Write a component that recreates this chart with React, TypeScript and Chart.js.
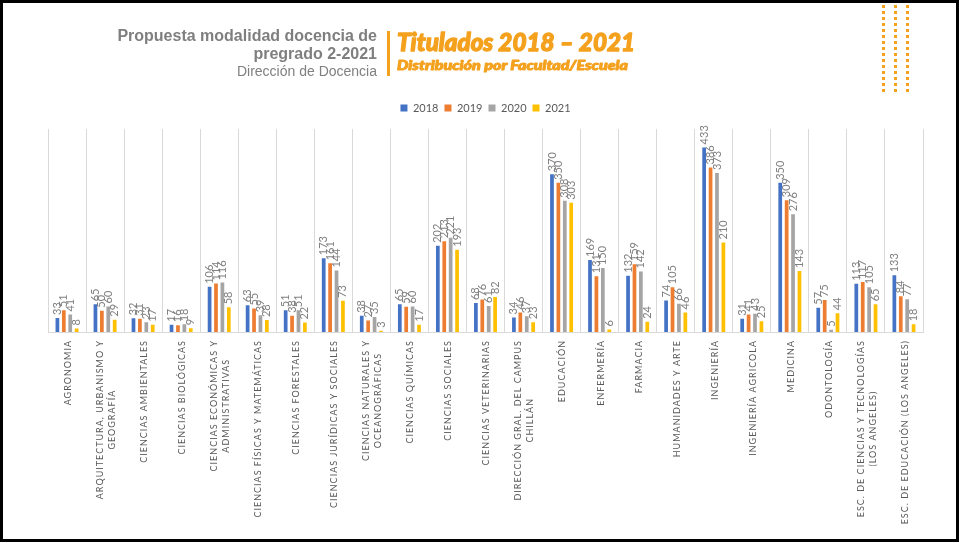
import React, { useEffect, useRef } from "react";
import { Chart, registerables } from "chart.js";

Chart.register(...registerables);

const categories: (string | string[])[] = [
  "AGRONOMIA",
  ["ARQUITECTURA, URBANISMO Y", "GEOGRAFÍA"],
  "CIENCIAS AMBIENTALES",
  "CIENCIAS BIOLÓGICAS",
  ["CIENCIAS ECONÓMICAS Y", "ADMINISTRATIVAS"],
  "CIENCIAS FÍSICAS Y MATEMÁTICAS",
  "CIENCIAS FORESTALES",
  "CIENCIAS JURÍDICAS Y SOCIALES",
  ["CIENCIAS NATURALES Y", "OCEANOGRÁFICAS"],
  "CIENCIAS QUÍMICAS",
  "CIENCIAS SOCIALES",
  "CIENCIAS VETERINARIAS",
  ["DIRECCIÓN GRAL. DEL CAMPUS", "CHILLÁN"],
  "EDUCACIÓN",
  "ENFERMERÍA",
  "FARMACIA",
  "HUMANIDADES Y ARTE",
  "INGENIERÍA",
  "INGENIERÍA AGRICOLA",
  "MEDICINA",
  "ODONTOLOGÍA",
  ["ESC. DE CIENCIAS Y TECNOLOGÍAS", "(LOS ANGELES)"],
  "ESC. DE EDUCACIÓN (LOS ANGELES)",
];

const seriesNames = ["2018", "2019", "2020", "2021"];
const values2018 = [33, 65, 32, 17, 106, 63, 51, 173, 38, 65, 202, 68, 34, 370, 169, 132, 74, 433, 31, 350, 57, 113, 133];
const values2019 = [51, 50, 31, 16, 114, 55, 38, 161, 27, 59, 213, 76, 46, 350, 131, 159, 105, 386, 41, 309, 75, 117, 84];
const values2020 = [41, 60, 23, 18, 116, 39, 51, 144, 35, 60, 221, 61, 37, 308, 150, 142, 66, 373, 43, 276, 5, 105, 77];
const values2021 = [8, 29, 17, 9, 58, 28, 22, 73, 3, 17, 193, 82, 23, 303, 6, 24, 46, 210, 25, 143, 44, 65, 18];
const seriesColors = ["#4472C4", "#ED7D31", "#A5A5A5", "#FFC000"];

const ORANGE = "#F4A11E";

const gridTopPlugin = {
  id: "gridTop",
  beforeDatasetsDraw(chart: any) {
    const { ctx, chartArea } = chart;
    ctx.save();
    ctx.fillStyle = "#ffffff";
    ctx.fillRect(chartArea.left - 2, chartArea.top - 1, chartArea.right - chartArea.left + 4, 129 - chartArea.top + 1);
    ctx.restore();
  },
};

const valueLabelPlugin = {
  id: "valueLabels",
  afterDatasetsDraw(chart: any) {
    const ctx = chart.ctx;
    ctx.save();
    ctx.font = "11px Lato";
    ctx.fillStyle = "#808080";
    ctx.textAlign = "left";
    ctx.textBaseline = "middle";
    chart.data.datasets.forEach((ds: any, di: number) => {
      const meta = chart.getDatasetMeta(di);
      meta.data.forEach((el: any, i: number) => {
        ctx.save();
        ctx.translate(el.x, el.y - 3);
        ctx.rotate(-Math.PI / 2);
        ctx.fillText(String(ds.data[i]), 0, 0);
        ctx.restore();
      });
    });
    ctx.restore();
  },
};

const categoryLabelPlugin = {
  id: "categoryLabels",
  afterDraw(chart: any) {
    const scale = chart.scales.x;
    const ctx = chart.ctx;
    ctx.save();
    ctx.font = "9px Lato";
    (ctx as any).letterSpacing = "1px";
    ctx.fillStyle = "#595959";
    ctx.textAlign = "center";
    ctx.textBaseline = "middle";
    const top = scale.bottom + 8;
    const lh = 12;
    (chart.data.labels as any[]).forEach((lab, i) => {
      const lines: string[] = Array.isArray(lab) ? lab : [lab];
      const w = Math.max(...lines.map((l) => ctx.measureText(l).width));
      const cx = scale.getPixelForTick(i) + 1;
      ctx.save();
      ctx.translate(cx, top + w / 2);
      ctx.rotate(-Math.PI / 2);
      lines.forEach((l, j) => {
        ctx.fillText(l, 0, (j - (lines.length - 1) / 2) * lh);
      });
      ctx.restore();
    });
    ctx.restore();
  },
};

export default function App() {
  const canvasRef = useRef<HTMLCanvasElement | null>(null);

  useEffect(() => {
    if (!canvasRef.current) return;
    const allSeries = [values2018, values2019, values2020, values2021];
    const chart = new Chart(canvasRef.current, {
      type: "bar",
      data: {
        labels: categories as any,
        datasets: allSeries.map((vals, k) => ({
          label: seriesNames[k],
          data: vals,
          backgroundColor: seriesColors[k],
          borderWidth: 0,
          categoryPercentage: 0.674,
          barPercentage: 0.58,
        })),
      },
      options: {
        responsive: false,
        animation: false,
        devicePixelRatio: 1,
        layout: { padding: { top: 96.5, left: 48, right: 36, bottom: 211 } },
        plugins: {
          legend: {
            display: true,
            position: "top",
            labels: {
              boxWidth: 7,
              boxHeight: 7,
              padding: 6,
              color: "#595959",
              font: { family: "Lato", size: 11 },
            },
          },
          tooltip: { enabled: false },
          title: { display: false },
        },
        scales: {
          x: {
            grid: { display: true, color: "#d9d9d9", lineWidth: 1, drawTicks: false, offset: true },
            border: { display: true, color: "#d9d9d9" },
            ticks: { display: false },
          },
          y: {
            display: false,
            min: 0,
            max: 489,
          },
        },
      },
      plugins: [gridTopPlugin, valueLabelPlugin, categoryLabelPlugin],
    });
    return () => chart.destroy();
  }, []);

  const dots: React.ReactNode[] = [];
  [882, 894, 906].forEach((x) => {
    for (let k = 0; k < 15; k++) {
      dots.push(<rect key={`${x}-${k}`} x={x} y={5 + 6 * k} width={3} height={3} fill={ORANGE} />);
    }
  });

  return (
    <div style={{ position: "fixed", left: 0, top: 0, width: 959, height: 543, background: "#ffffff", overflow: "hidden" }}>
      <canvas ref={canvasRef} width={959} height={543} style={{ position: "absolute", left: 0, top: 0, display: "block" }} />
      <svg width={959} height={543} style={{ position: "absolute", left: 0, top: 0, pointerEvents: "none" }}>
        <text x={377} y={41} textAnchor="end" fontFamily="'Liberation Sans', Arial, sans-serif" fontWeight="bold" fontSize={16} fill="#7f7f7f">
          Propuesta modalidad docencia de
        </text>
        <text x={377} y={59} textAnchor="end" fontFamily="'Liberation Sans', Arial, sans-serif" fontWeight="bold" fontSize={16} fill="#7f7f7f">
          pregrado 2-2021
        </text>
        <text x={377} y={76} textAnchor="end" fontFamily="'Liberation Sans', Arial, sans-serif" fontSize={14} fill="#808080">
          Dirección de Docencia
        </text>
        <rect x={387} y={31} width={3} height={45} fill={ORANGE} />
        <text x={397} y={51} fontFamily="Lato, 'DejaVu Sans', sans-serif" fontWeight={900} fontStyle="italic" fontSize={25} fill={ORANGE} stroke={ORANGE} strokeWidth={1.3} strokeLinejoin="round" textLength={238} lengthAdjust="spacingAndGlyphs">
          Titulados 2018 – 2021
        </text>
        <text x={397} y={70} fontFamily="Lato, 'DejaVu Sans', sans-serif" fontWeight={900} fontStyle="italic" fontSize={13} fill={ORANGE} stroke={ORANGE} strokeWidth={0.9} strokeLinejoin="round" textLength={231} lengthAdjust="spacingAndGlyphs">
          Distribución por Facultad/Escuela
        </text>
        {dots}
      </svg>
      <div style={{ position: "absolute", left: 0, top: 0, width: 959, height: 542, border: "3px solid #000", boxSizing: "border-box", pointerEvents: "none" }} />
    </div>
  );
}
